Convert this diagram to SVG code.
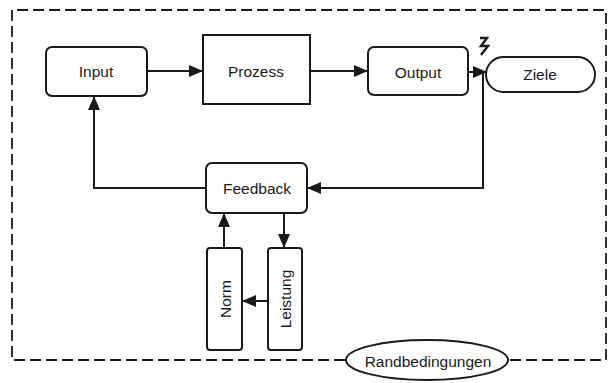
<svg xmlns="http://www.w3.org/2000/svg" width="609" height="383" viewBox="0 0 609 383">
<style>
.box{fill:#fff;stroke:#1a1a1a;stroke-width:2}
.ln{fill:none;stroke:#1a1a1a;stroke-width:2}
.border{fill:none;stroke:#1a1a1a;stroke-width:1.8;stroke-dasharray:11 5}
text{font-family:"Liberation Sans",Arial,sans-serif;font-size:15.5px;fill:#1a1a1a;text-anchor:middle;dominant-baseline:central}
</style>
<defs>
<marker id="ah" markerWidth="14" markerHeight="12" refX="14" refY="6" orient="auto" markerUnits="userSpaceOnUse">
<path d="M0,0 L14,6 L0,12 Z" fill="#1a1a1a"/>
</marker>
</defs>
<rect width="609" height="383" fill="#fff"/>
<g id="border">
<path class="border" d="M345,360 L12,360 L12,10 L606,10 L606,360 L508,360"/>
</g>
<g id="connectors">
<path class="ln" d="M147,71 L203,71" marker-end="url(#ah)"/>
<path class="ln" d="M310,71 L368,71" marker-end="url(#ah)"/>
<path class="ln" d="M468,72 L487,72" marker-end="url(#ah)"/>
<path class="ln" d="M483,72 L483,188 L307,188" marker-end="url(#ah)"/>
<path class="ln" d="M206,188 L94,188 L94,96" marker-end="url(#ah)"/>
<path class="ln" d="M224,248 L224,213" marker-end="url(#ah)"/>
<path class="ln" d="M284,213 L284,248" marker-end="url(#ah)"/>
<path class="ln" d="M268,301 L242,301" marker-end="url(#ah)"/>
</g>
<g id="input">
<rect class="box" x="46" y="47" width="101" height="49" rx="6"/>
<text x="96" y="71">Input</text>
</g>
<g id="prozess">
<rect class="box" x="203" y="35" width="107" height="69"/>
<text x="256" y="71">Prozess</text>
</g>
<g id="output">
<rect class="box" x="368" y="47" width="100" height="48" rx="6"/>
<text x="418" y="72">Output</text>
</g>
<g id="ziele">
<rect class="box" x="486" y="57" width="109" height="35" rx="17.5"/>
<text x="540" y="74">Ziele</text>
</g>
<g id="blitz">
<path d="M480,38 L487,38 L481,46 L488,46 L481,55" fill="none" stroke="#1a1a1a" stroke-width="2.4"/>
</g>
<g id="feedback">
<rect class="box" x="206" y="163" width="101" height="50" rx="6"/>
<text x="257" y="188">Feedback</text>
</g>
<g id="norm">
<rect class="box" x="207" y="248" width="35" height="102" rx="3"/>
<text x="225" y="299" transform="rotate(-90 225 299)">Norm</text>
</g>
<g id="leistung">
<rect class="box" x="268" y="248" width="34" height="102" rx="3"/>
<text x="285" y="299" transform="rotate(-90 285 299)">Leistung</text>
</g>
<g id="randbedingungen">
<ellipse class="box" cx="427" cy="360" rx="81" ry="20"/>
<text x="428" y="361">Randbedingungen</text>
</g>
</svg>
